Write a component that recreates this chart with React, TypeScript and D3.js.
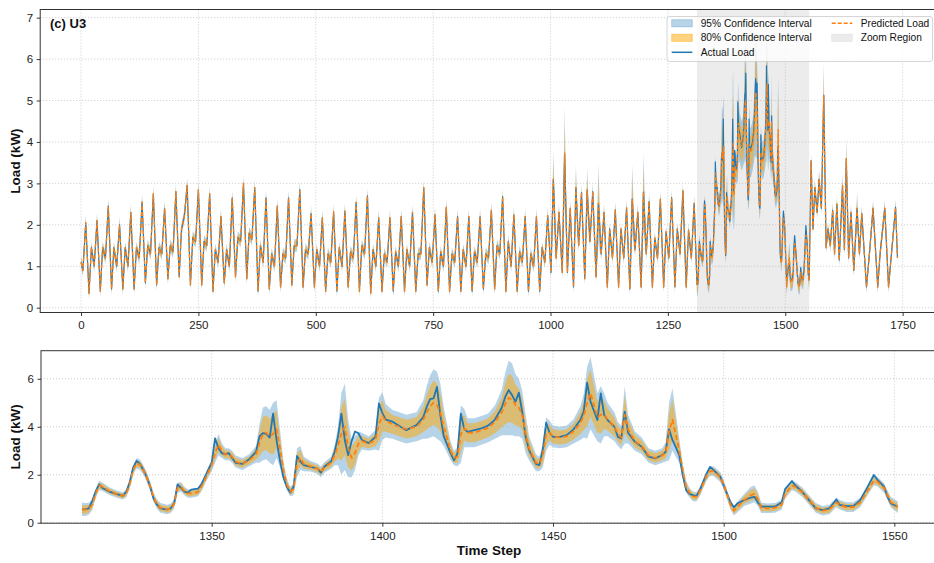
import React, { useEffect, useRef } from 'react';
import * as d3 from 'd3';

// Overview panel: the series before the zoom window, read one knot per daily phase
// (morning dip, main peak, night trough, afternoon bump) for days 0-54.
const firstLoad = 1.1;
const dayDip = [
  0.9, 1.0, 1.2, 1.0, 1.0, 1.2, 1.3, 1.3, 1.35, 2.2, 1.6, 1.5, 1.1, 1.0, 1.6, 1.65, 1.1, 1.0, 1.2, 1.5,
  1.3, 1.0, 1.1, 1.0, 1.2, 1.3, 1.0, 1.1, 1.0, 1.0, 1.3, 1.1, 1.0, 1.1, 1.0, 1.1, 1.2, 1.3, 1.0, 1.1, 1.0,
  1.1, 1.2, 0.85, 1.5, 1.6, 1.3, 1.2, 1.2, 1.4, 1.3, 1.2, 1.2, 1.3, 1.2,
];
const dayPeak = [
  2.05, 2.1, 2.45, 2.0, 2.3, 2.55, 2.75, 2.4, 2.8, 2.95, 2.85, 2.75, 2.2, 2.65, 3.0, 2.9, 2.65, 2.45, 2.65, 2.85,
  2.27, 2.17, 2.32, 2.33, 2.54, 2.7, 2.17, 2.17, 2.2, 2.3, 2.9, 2.24, 2.42, 2.2, 2.2, 2.2, 2.35, 2.68, 2.24, 2.2, 2.2, 2.22,
  2.3, 2.4, 2.78, 2.8, 2.3, 2.36, 2.41, 2.3, 2.56, 2.62, 2.66, 2.82, 2.52,
];
const dayTrough = [
  0.35, 0.4, 0.45, 0.45, 0.45, 0.6, 0.55, 0.7, 0.75, 0.55, 0.55, 0.4, 0.6, 0.75, 0.7, 0.4, 0.45, 0.5, 0.55, 0.5,
  0.5, 0.4, 0.4, 0.5, 0.4, 0.35, 0.4, 0.4, 0.4, 0.4, 0.55, 0.4, 0.4, 0.4, 0.4, 0.45, 0.45, 0.4, 0.4, 0.4, 0.4,
  0.85, 0.85, 0.5, 0.7, 0.75, 0.5, 0.5, 0.45, 0.5, 0.5, 0.5, 0.5, 0.5, 0.56,
];
const dayMid = [
  1.45, 1.45, 1.45, 1.45, 1.45, 1.5, 1.45, 1.5, 1.9, 1.7, 1.6, 1.4, 1.4, 1.7, 1.8, 1.5, 1.3, 1.3, 1.5, 1.4,
  1.4, 1.3, 1.45, 1.35, 1.5, 1.4, 1.3, 1.35, 1.4, 1.3, 1.45, 1.35, 1.3, 1.4, 1.35, 1.3, 1.5, 1.6, 1.35, 1.3, 1.45,
  3.1, 3.73, 2.9, 2.84, 2.52, 1.9, 1.9, 2.62, 2.79, 1.68, 1.83, 1.9, 1.87, 1.6,
];
const dayPhase = [4, 10, 17, 22];
// afternoon bumps that had a wide interval: [day, 95% half-width]
const wideMids = [[41, 0.7], [42, 1.1], [43, 0.55], [44, 0.56], [45, 0.95], [48, 0.83], [49, 0.94]];

// Zoom window (time steps 1312-1551)
const zoomSteps = [
  1312, 1313, 1314, 1315, 1316, 1317, 1318, 1320, 1322, 1324,
  1325, 1326, 1327, 1328, 1329, 1330, 1331, 1332, 1333, 1334,
  1335, 1337, 1338, 1339, 1340, 1341, 1342, 1343, 1344, 1346,
  1347, 1348, 1349, 1350, 1351, 1352, 1353, 1354, 1355, 1356,
  1357, 1359, 1361, 1363, 1364, 1365, 1366, 1367, 1368, 1369,
  1370, 1371, 1372, 1373, 1374, 1375, 1376, 1377, 1379, 1381,
  1382, 1383, 1385, 1386, 1387, 1388, 1389, 1390, 1391, 1392,
  1393, 1394, 1396, 1398, 1399, 1400, 1401, 1403, 1405, 1407,
  1410, 1412, 1413, 1414, 1415, 1416, 1417, 1418, 1420, 1421,
  1422, 1423, 1424, 1425, 1427, 1429, 1431, 1433, 1435, 1436,
  1437, 1438, 1439, 1440, 1441, 1442, 1443, 1445, 1446, 1447,
  1448, 1449, 1450, 1452, 1454, 1456, 1458, 1459, 1460, 1461,
  1463, 1464, 1465, 1466, 1468, 1469, 1470, 1471, 1472, 1474,
  1476, 1478, 1480, 1482, 1483, 1484, 1485, 1487, 1488, 1489,
  1490, 1491, 1492, 1493, 1495, 1496, 1497, 1499, 1500, 1502,
  1503, 1504, 1506, 1508, 1509, 1510, 1511, 1513, 1515, 1517,
  1518, 1520, 1521, 1523, 1525, 1527, 1529, 1531, 1533, 1534,
  1536, 1538, 1540, 1542, 1544, 1545, 1547, 1548, 1549, 1551,
];
const zoomActual = [
  0.56, 0.56, 0.6, 0.9, 1.3, 1.6, 1.45, 1.3, 1.2, 1.12,
  1.3, 1.7, 2.3, 2.58, 2.45, 2.2, 1.9, 1.5, 1.0, 0.75,
  0.6, 0.55, 0.6, 0.8, 1.6, 1.45, 1.3, 1.25, 1.38, 1.42,
  1.6, 1.9, 2.2, 2.5, 3.52, 3.1, 2.9, 2.85, 2.9, 2.7,
  2.5, 2.45, 2.65, 2.95, 3.6, 3.73, 3.7, 3.55, 4.55, 3.45,
  2.6, 1.9, 1.5, 1.26, 1.5, 2.78, 2.55, 2.4, 2.33, 2.26,
  2.09, 2.33, 2.55, 2.95, 3.58, 4.55, 3.45, 2.82, 3.4, 3.8,
  3.73, 3.45, 3.32, 3.58, 4.97, 4.58, 4.3, 4.21, 4.03, 3.86,
  4.07, 4.4, 4.83, 5.15, 5.18, 5.66, 4.48, 3.6, 2.9, 2.6,
  2.88, 4.55, 3.9, 3.79, 3.86, 3.93, 4.05, 4.3, 4.8, 5.24,
  5.53, 5.32, 5.04, 5.42, 4.6, 3.58, 3.03, 2.45, 2.4, 3.03,
  4.17, 3.75, 3.58, 3.58, 3.65, 3.89, 4.28, 4.63, 5.84, 5.04,
  4.28, 5.39, 4.49, 4.28, 4.0, 3.58, 3.51, 4.63, 3.75, 3.37,
  3.17, 2.75, 2.68, 2.82, 2.95, 3.89, 3.45, 2.82, 1.99, 1.36,
  1.2, 1.15, 1.11, 1.35, 2.05, 2.33, 2.2, 1.92, 1.55, 0.85,
  0.64, 0.8, 0.94, 1.05, 1.08, 0.85, 0.67, 0.67, 0.67, 0.85,
  1.4, 1.74, 1.55, 1.29, 0.94, 0.6, 0.53, 0.6, 0.97, 0.74,
  0.69, 0.69, 0.94, 1.45, 1.99, 1.8, 1.5, 1.08, 0.8, 0.67,
];
const zoomPred = [
  0.56, 0.55, 0.58, 0.75, 1.2, 1.55, 1.5, 1.32, 1.2, 1.12,
  1.22, 1.6, 2.2, 2.48, 2.42, 2.2, 1.9, 1.52, 1.05, 0.77,
  0.62, 0.55, 0.6, 0.78, 1.45, 1.5, 1.32, 1.22, 1.22, 1.28,
  1.5, 1.8, 2.1, 2.4, 2.9, 3.25, 3.0, 2.85, 2.85, 2.75,
  2.55, 2.45, 2.6, 2.85, 3.3, 3.7, 3.75, 3.6, 3.7, 3.9,
  3.1, 2.2, 1.6, 1.3, 1.4, 2.5, 2.7, 2.45, 2.35, 2.25,
  2.12, 2.3, 2.5, 2.8, 3.2, 3.7, 4.0, 3.1, 2.7, 2.9,
  3.3, 3.4, 3.3, 3.45, 4.1, 4.45, 4.25, 4.1, 4.0, 3.9,
  4.0, 4.3, 4.6, 4.85, 5.0, 4.9, 4.6, 4.0, 3.0, 2.7,
  2.75, 3.7, 3.95, 3.75, 3.75, 3.85, 3.95, 4.2, 4.6, 4.95,
  5.2, 5.15, 4.9, 4.8, 4.5, 3.7, 3.1, 2.5, 2.45, 2.8,
  3.7, 3.75, 3.6, 3.55, 3.6, 3.8, 4.15, 4.45, 5.0, 5.4,
  4.4, 4.5, 4.5, 4.3, 4.0, 3.7, 3.55, 4.5, 3.9, 3.4,
  3.2, 2.8, 2.7, 2.8, 2.95, 3.8, 4.3, 3.0, 2.2, 1.5,
  1.25, 1.1, 1.08, 1.3, 1.95, 2.15, 2.15, 1.9, 1.6, 0.75,
  0.5, 0.65, 0.95, 1.15, 1.2, 1.0, 0.62, 0.6, 0.62, 0.75,
  1.2, 1.55, 1.5, 1.28, 0.95, 0.62, 0.5, 0.55, 0.85, 0.75,
  0.65, 0.65, 0.85, 1.3, 1.75, 1.72, 1.45, 1.15, 0.85, 0.65,
];
// half-width of the 95% interval
const zoomSpread = [
  0.28, 0.27, 0.25, 0.22, 0.2, 0.2, 0.18, 0.16, 0.15, 0.15,
  0.16, 0.18, 0.2, 0.22, 0.22, 0.2, 0.2, 0.2, 0.2, 0.2,
  0.2, 0.2, 0.2, 0.2, 0.22, 0.2, 0.18, 0.18, 0.18, 0.18,
  0.2, 0.2, 0.22, 0.25, 0.4, 0.45, 0.3, 0.25, 0.25, 0.25,
  0.25, 0.25, 0.25, 0.35, 0.8, 1.1, 1.1, 1.1, 1.3, 1.2,
  0.8, 0.4, 0.25, 0.2, 0.25, 0.6, 0.5, 0.3, 0.22, 0.22,
  0.22, 0.22, 0.25, 0.4, 0.8, 1.7, 1.8, 1.2, 0.8, 0.7,
  0.5, 0.35, 0.3, 0.4, 1.1, 1.0, 0.7, 0.6, 0.6, 0.6,
  0.6, 0.8, 1.1, 1.3, 1.4, 1.4, 1.2, 0.8, 0.4, 0.3,
  0.4, 1.2, 0.8, 0.6, 0.6, 0.6, 0.6, 0.7, 0.95, 1.3,
  1.55, 1.5, 1.3, 1.2, 1.0, 0.8, 0.5, 0.35, 0.3, 0.5,
  0.7, 0.5, 0.45, 0.45, 0.45, 0.5, 0.7, 0.9, 1.5, 1.5,
  1.0, 1.2, 0.9, 0.7, 0.6, 0.5, 0.5, 1.2, 0.6, 0.4,
  0.35, 0.3, 0.3, 0.3, 0.4, 1.2, 1.3, 0.5, 0.3, 0.25,
  0.2, 0.2, 0.2, 0.2, 0.2, 0.2, 0.2, 0.2, 0.2, 0.2,
  0.2, 0.22, 0.25, 0.35, 0.35, 0.3, 0.22, 0.2, 0.2, 0.2,
  0.2, 0.2, 0.2, 0.2, 0.2, 0.2, 0.2, 0.2, 0.2, 0.2,
  0.2, 0.2, 0.2, 0.2, 0.2, 0.2, 0.2, 0.2, 0.22, 0.25,
];

// After the zoom window
const tailSteps = [1555, 1559, 1563, 1568, 1572, 1577, 1582, 1587, 1591, 1596, 1601, 1605, 1610, 1615, 1622, 1626, 1630,
  1635, 1640, 1646, 1653, 1658, 1663, 1673, 1680, 1687, 1697, 1702, 1712, 1720, 1727, 1735, 1739];
const tailLoad = [3.55, 1.9, 2.9, 2.3, 3.1, 2.4, 5.13, 1.45, 1.9, 1.5, 2.35, 1.3, 2.5, 1.15, 2.95, 1.4, 3.6,
  1.2, 2.3, 0.9, 2.4, 1.3, 2.27, 0.5, 1.4, 2.4, 0.5, 1.3, 2.4, 0.5, 1.4, 2.42, 1.2];
const tailSpread = [0.2, 0.15, 0.2, 0.15, 0.25, 0.15, 0.8, 0.15, 0.15, 0.15, 0.2, 0.15, 0.2, 0.15, 0.3, 0.15, 0.5,
  0.15, 0.2, 0.15, 0.4, 0.15, 0.2, 0.15, 0.15, 0.2, 0.15, 0.15, 0.2, 0.15, 0.15, 0.2, 0.15];

const zoomRegion = [1312, 1551];
const topTicksX = [0, 250, 500, 750, 1000, 1250, 1500, 1750];
const topTicksY = [0, 1, 2, 3, 4, 5, 6, 7];
const zoomTicksX = [1350, 1400, 1450, 1500, 1550];
const zoomTicksY = [0, 2, 4, 6];

const FONT = '"Liberation Sans", Arial, Helvetica, sans-serif';
const BLUE = '#1f77b4';
const ORANGE = '#ff7f0e';
const Z80 = 0.653; // 1.28 / 1.96

type Pt = { t: number; a: number; p: number; s: number };

function buildOverview(): Pt[] {
  const pts: Pt[] = [{ t: 0, a: firstLoad, p: firstLoad, s: 0.15 }];
  dayPeak.forEach((_, k) => {
    const vals = [dayDip[k], dayPeak[k], dayTrough[k], dayMid[k]];
    dayPhase.forEach((ph, j) => {
      const t = 24 * k + ph;
      if (t >= zoomSteps[0]) return;
      let s = j === 1 ? 0.2 : 0.15;
      if (j === 3) {
        const w = wideMids.find((d) => d[0] === k);
        if (w) s = w[1];
      }
      pts.push({ t, a: vals[j], p: vals[j], s });
    });
  });
  return pts;
}

const zoomPts: Pt[] = zoomSteps.map((t, i) => ({ t, a: zoomActual[i], p: zoomPred[i], s: zoomSpread[i] }));
const tailPts: Pt[] = tailSteps.map((t, i) => ({ t, a: tailLoad[i], p: tailLoad[i], s: tailSpread[i] }));

export default function App() {
  const svgRef = useRef<SVGSVGElement>(null);

  useEffect(() => {
    if (!svgRef.current) return;
    document.body.style.margin = '0';
    const svg = d3.select(svgRef.current);
    svg.selectAll('*').remove();

    const allPts = [...buildOverview(), ...zoomPts, ...tailPts];

    const panels = [
      {
        id: 'top', data: allPts,
        x: d3.scaleLinear().domain([-87, 1826]).range([40.2, 938.3]),
        y: d3.scaleLinear().domain([-0.116, 7.197]).range([312.5, 9.5]),
        xt: topTicksX, yt: topTicksY, lwA: 1.2, lwP: 1.3, dash: '4,2',
      },
      {
        id: 'zoom', data: zoomPts,
        x: d3.scaleLinear().domain([1300, 1563]).range([41, 938.7]),
        y: d3.scaleLinear().domain([-0.02, 7.17]).range([523.2, 350.7]),
        xt: zoomTicksX, yt: zoomTicksY, lwA: 1.8, lwP: 1.8, dash: '5,3',
      },
    ];

    svg.append('defs').selectAll('clipPath')
      .data(panels)
      .enter()
      .append('clipPath')
      .attr('id', (d) => `clip-${d.id}`)
      .append('rect')
      .attr('x', (d) => d.x.range()[0])
      .attr('y', (d) => d.y.range()[1])
      .attr('width', (d) => d.x.range()[1] - d.x.range()[0])
      .attr('height', (d) => d.y.range()[0] - d.y.range()[1]);

    panels.forEach((pn) => {
      const { x, y } = pn;
      const [x0, x1] = x.range();
      const [yb, yt] = y.range();
      const g = svg.append('g');
      const plot = g.append('g').attr('clip-path', `url(#clip-${pn.id})`);

      // Zoom region shading
      if (pn.id === 'top') {
        plot.append('rect')
          .attr('x', x(zoomRegion[0]))
          .attr('y', yt)
          .attr('width', x(zoomRegion[1]) - x(zoomRegion[0]))
          .attr('height', yb - yt)
          .attr('fill', '#808080')
          .attr('fill-opacity', 0.15);
      }

      // Confidence bands
      const band = (k: number) => d3.area<Pt>()
        .x((d) => x(d.t))
        .y0((d) => y(d.p - d.s * k))
        .y1((d) => y(d.p + d.s * k));

      plot.append('path').datum(pn.data)
        .attr('fill', BLUE).attr('fill-opacity', 0.32)
        .attr('d', band(1));
      plot.append('path').datum(pn.data)
        .attr('fill', '#ffa500').attr('fill-opacity', 0.5)
        .attr('d', band(Z80));

      // Grid
      const grid = g.append('g')
        .attr('stroke', '#b0b0b0').attr('stroke-width', 0.8)
        .attr('stroke-dasharray', '1,2').attr('opacity', 0.8);
      grid.selectAll('.gx').data(pn.xt).enter().append('line')
        .attr('x1', (d) => x(d)).attr('x2', (d) => x(d))
        .attr('y1', yt).attr('y2', yb);
      grid.selectAll('.gy').data(pn.yt).enter().append('line')
        .attr('x1', x0).attr('x2', x1)
        .attr('y1', (d) => y(d)).attr('y2', (d) => y(d));

      // Lines
      const line = (acc: (d: Pt) => number) => d3.line<Pt>().x((d) => x(d.t)).y((d) => y(acc(d)));
      plot.append('path').datum(pn.data)
        .attr('fill', 'none').attr('stroke', BLUE).attr('stroke-width', pn.lwA)
        .attr('stroke-linejoin', 'round')
        .attr('d', line((d) => d.a));
      plot.append('path').datum(pn.data)
        .attr('fill', 'none').attr('stroke', ORANGE).attr('stroke-width', pn.lwP)
        .attr('stroke-dasharray', pn.dash).attr('stroke-linejoin', 'round')
        .attr('d', line((d) => d.p));

      // Frame
      g.append('rect')
        .attr('x', x0).attr('y', yt)
        .attr('width', x1 - x0).attr('height', yb - yt)
        .attr('fill', 'none').attr('stroke', '#333').attr('stroke-width', 1);

      // Axes
      const ax = g.append('g')
        .attr('transform', `translate(0,${yb})`)
        .call(d3.axisBottom(x).tickValues(pn.xt).tickSize(3.5).tickPadding(5).tickFormat(d3.format('d')));
      const ay = g.append('g')
        .attr('transform', `translate(${x0},0)`)
        .call(d3.axisLeft(y).tickValues(pn.yt).tickSize(3.5).tickPadding(3.5).tickFormat(d3.format('d')));
      [ax, ay].forEach((a) => {
        a.select('.domain').remove();
        a.attr('font-family', FONT).attr('font-size', 11.5).attr('color', '#222');
        a.selectAll('line').attr('stroke-width', 0.9);
      });

      // Y label
      g.append('text')
        .attr('transform', `translate(20,${(yb + yt) / 2}) rotate(-90)`)
        .attr('text-anchor', 'middle')
        .attr('font-family', FONT).attr('font-size', 13.5).attr('font-weight', 'bold')
        .attr('fill', '#111')
        .text('Load (kW)');
    });

    // Panel title
    svg.append('text')
      .attr('x', 50).attr('y', 27.5)
      .attr('font-family', FONT).attr('font-size', 13).attr('font-weight', 'bold')
      .attr('fill', '#111')
      .text('(c) U3');

    // X label
    svg.append('text')
      .attr('x', 489).attr('y', 554.5)
      .attr('text-anchor', 'middle')
      .attr('font-family', FONT).attr('font-size', 13.5).attr('font-weight', 'bold')
      .attr('fill', '#111')
      .text('Time Step');

    // Legend
    const lg = svg.append('g').attr('font-family', FONT).attr('font-size', 10.2);
    lg.append('rect')
      .attr('x', 667).attr('y', 16.5).attr('width', 265.5).attr('height', 45)
      .attr('rx', 2.5)
      .attr('fill', '#fff').attr('fill-opacity', 0.8)
      .attr('stroke', '#cccccc').attr('stroke-width', 0.8);

    const entries = [
      { label: '95% Confidence Interval', kind: 'b95', col: 0, row: 0 },
      { label: '80% Confidence Interval', kind: 'b80', col: 0, row: 1 },
      { label: 'Actual Load', kind: 'act', col: 0, row: 2 },
      { label: 'Predicted Load', kind: 'pred', col: 1, row: 0 },
      { label: 'Zoom Region', kind: 'zoom', col: 1, row: 1 },
    ];
    const colX = [671.7, 831.7];
    const rowY = [23.3, 37.8, 52.3];
    entries.forEach((e) => {
      const sx = colX[e.col];
      const cy = rowY[e.row];
      if (e.kind === 'b95' || e.kind === 'b80' || e.kind === 'zoom') {
        const fill = e.kind === 'b95' ? BLUE : e.kind === 'b80' ? '#ffa500' : '#808080';
        const op = e.kind === 'b95' ? 0.32 : e.kind === 'b80' ? 0.5 : 0.15;
        lg.append('rect')
          .attr('x', sx).attr('y', cy - 3.6).attr('width', 20.6).attr('height', 7.2)
          .attr('fill', fill).attr('fill-opacity', op)
          .attr('stroke', fill).attr('stroke-opacity', op).attr('stroke-width', 0.8);
      } else {
        lg.append('line')
          .attr('x1', sx).attr('x2', sx + 20.6).attr('y1', cy).attr('y2', cy)
          .attr('stroke', e.kind === 'act' ? BLUE : ORANGE)
          .attr('stroke-width', 1.5)
          .attr('stroke-dasharray', e.kind === 'pred' ? '4,2' : null);
      }
      lg.append('text')
        .attr('x', sx + 29).attr('y', cy).attr('dy', '0.35em')
        .attr('fill', '#111')
        .text(e.label);
    });
  }, []);

  return <svg ref={svgRef} width={934} height={563} style={{ display: 'block', background: '#fff' }} />;
}
